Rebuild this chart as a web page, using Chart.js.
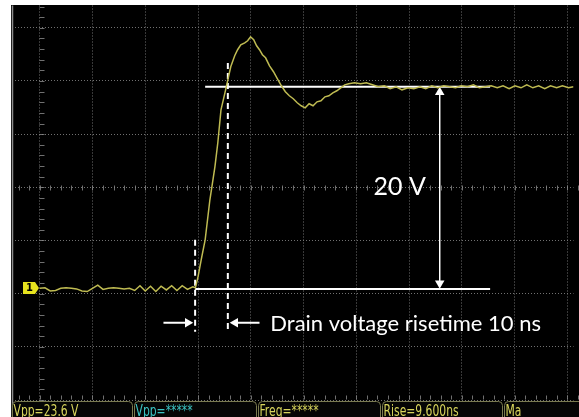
<!DOCTYPE html>
<html>
<head>
<meta charset="utf-8">
<script src="https://cdn.jsdelivr.net/npm/chart.js@4.4.0/dist/chart.umd.min.js"></script>
<style>
  html, body { margin: 0; background: #fff; }
  #wrap { width: 579px; height: 417px; }
</style>
</head>
<body>
<div id="wrap"><canvas id="chart"></canvas></div>
<script>
// scope trace: time in ns (20 ns/div), drain voltage in V (5 V/div)
const timeNs = [0, 2, 4, 6, 8, 10, 12, 14, 16, 18, 20, 22, 24, 26, 28, 30, 32, 34, 36, 38,
  40, 42, 44, 46, 48, 50, 52, 54, 56, 58,
  59.0, 60.0, 61.2, 62.7, 64.5, 66.4, 67.5, 68.7, 70.2, 71.3, 72.4, 73.9, 75.0, 76.2, 77.7,
  78.8, 79.9, 81.1, 82.2, 83.3, 84.4, 85.6, 87.1, 88.6, 90.1, 91.6, 93.1, 94.6, 96.1, 97.6,
  99.1, 100.6, 102.1, 103.6, 105.1, 106.6, 108.1, 109.6, 111.1, 112.6, 114.1, 115.6, 117.1,
  119.3, 121.6, 123.8, 126.1, 128.3, 130.6, 132.8, 135.1, 137.3, 139.6, 141.8, 144.1, 146.3,
  148.6, 150.8, 153.1, 155.3, 157.6, 159.8, 162.1, 164.4, 166.6, 168.9, 171.1, 173.4, 175.6,
  177.9, 180.1, 182.4, 184.6, 186.9, 189.1, 191.4, 193.6, 195.9, 198.1, 200.4, 202.3];
const volts = [0.0, 0.05, -0.25, -0.2, 0.0, 0.05, 0.0, -0.05, -0.25, -0.3, 0.0, 0.3, -0.1, 0.0, 0.05, 0.0, -0.05, 0.0, -0.2, 0.25,
  -0.25, 0.2, -0.3, 0.2, -0.15, 0.25, -0.2, 0.25, -0.1, 0.15,
  0.05, 1.08, 2.68, 4.56, 8.33, 11.43, 13.69, 16.79, 18.39, 19.61, 20.84, 21.87, 22.44, 22.91, 23.09,
  23.28, 23.66, 23.38, 22.81, 22.44, 21.97, 21.68, 20.93, 20.37, 19.71, 19.05, 18.49, 18.11, 17.83, 17.45,
  17.17, 16.98, 17.36, 17.17, 17.54, 17.64, 18.01, 18.11, 18.39, 18.58, 18.86, 19.14, 19.24,
  19.33, 19.24, 19.33, 19.14, 18.96, 19.05, 18.77, 18.96, 18.67, 18.86, 18.77, 18.96, 18.77,
  19.05, 18.86, 19.05, 18.96, 18.86, 19.05, 18.96, 19.14, 18.86, 18.96, 19.05, 18.86, 19.05,
  18.77, 19.05, 18.86, 19.14, 18.86, 19.05, 18.77, 19.05, 18.86, 19.05, 18.86, 18.96];

// graticule positions
const xGridNs = [0, 20, 40, 60, 80, 100, 120, 140, 160, 180, 200];
const yGridV = [-10.5, -5.5, -0.5, 4.5, 9.5, 14.5, 19.5, 24.5];

// annotation marks
const levelLineNs = [62.7, 170.7];
const levelV = 18.96;
const baseLineNs = [58.9, 170.7];
const baseV = -0.05;
const cursorNs = [58.9, 71.3];
const cursorTopV = [4.56, 21.2];
const cursorBottomV = -4.09;
const spanArrowNs = 151.6;
const spanArrowV = [18.44, 0.47];
const riseArrowV = -3.24;
const riseArrowInNs = [46.9, 56.1];
const riseArrowOutNs = [83.3, 74.1];

const spanLabel = '20 V';
const riseLabel = 'Drain voltage risetime 10 ns';
const statusLabels = ['Vpp=23.6 V', 'Vpp=*****', 'Freq=*****', 'Rise=9.600ns', 'Ma'];
const statusColors = ['#d8d55c', '#3cc4c4', '#d8d55c', '#d8d55c', '#d8d55c'];

const pts = (xs, ys) => xs.map((x, i) => ({ x: x, y: Array.isArray(ys) ? ys[i] : ys }));

const white = '#ffffff';
const line = (data, extra) => Object.assign({
  data: data, borderColor: white, borderWidth: 2, pointRadius: 0, fill: false
}, extra);

const scope = {
  id: 'scope',
  beforeDraw(chart) {
    const { ctx } = chart;
    ctx.save();
    ctx.fillStyle = '#000';
    ctx.fillRect(11, 5, chart.width - 11, chart.height - 5);
    ctx.restore();
  },
  beforeDatasetsDraw(chart) {
    const { ctx, chartArea: a, scales: { x, y } } = chart;
    ctx.save();
    ctx.strokeStyle = 'rgba(140,140,140,0.8)';
    ctx.lineWidth = 1;
    // minor ticks on the left graticule line
    const x0 = Math.round(x.getPixelForValue(0)) + 0.5;
    for (let v = yGridV[0]; v < 27; v += 1) {
      const py = Math.round(y.getPixelForValue(v)) + 0.5;
      ctx.beginPath(); ctx.moveTo(x0 - 1, py); ctx.lineTo(x0 + 4, py); ctx.stroke();
    }
    // minor ticks on the centre line and the bottom line
    const yc = Math.round(y.getPixelForValue(9.5)) + 0.5;
    const yb = Math.round(y.getPixelForValue(-10.5)) - 0.5;
    for (let t = -8; t <= 204; t += 4) {
      const px = Math.round(x.getPixelForValue(t)) + 0.5;
      ctx.beginPath(); ctx.moveTo(px, yc - 2); ctx.lineTo(px, yc + 3); ctx.stroke();
      ctx.beginPath(); ctx.moveTo(px, yb - 4); ctx.lineTo(px, yb); ctx.stroke();
    }
    // screen frame at the left
    ctx.strokeStyle = '#8c8c8c';
    ctx.lineWidth = 1.5;
    ctx.beginPath(); ctx.moveTo(a.left + 0.5, a.top); ctx.lineTo(a.left + 0.5, chart.height); ctx.stroke();
    ctx.restore();
  },
  afterDatasetsDraw(chart) {
    const { ctx, scales: { x, y } } = chart;
    ctx.save();
    // channel 1 ground marker
    const gy = Math.round(y.getPixelForValue(0));
    const gx = 23;
    ctx.fillStyle = '#e6e21e';
    ctx.beginPath();
    ctx.moveTo(gx, gy - 6); ctx.lineTo(gx + 12, gy - 6); ctx.lineTo(gx + 16, gy);
    ctx.lineTo(gx + 12, gy + 6); ctx.lineTo(gx, gy + 6); ctx.closePath(); ctx.fill();
    ctx.fillStyle = '#000';
    ctx.font = 'bold 10px "DejaVu Sans"';
    ctx.textBaseline = 'middle';
    ctx.fillText('1', gx + 3, gy + 0.5);

    // annotation texts
    ctx.fillStyle = white;
    ctx.textBaseline = 'alphabetic';
    ctx.font = '25px Lato';
    ctx.fillText(spanLabel, x.getPixelForValue(126.5), y.getPixelForValue(8.8));
    ctx.font = '22px Lato';
    ctx.fillText(riseLabel, x.getPixelForValue(87.4), y.getPixelForValue(-4.0));

    // measurement bar
    const edges = [12, 134, 258, 382, 504, 640];
    const top = 401;
    ctx.font = '15px "DejaVu Sans Condensed"';
    statusLabels.forEach((s, i) => {
      const l = edges[i] + 0.5, r = edges[i + 1] - 1.5;
      ctx.strokeStyle = '#7a7a50';
      ctx.fillStyle = '#050505';
      ctx.lineWidth = 1;
      ctx.beginPath();
      ctx.roundRect(l, top + 0.5, r - l, 30, 4);
      ctx.fill(); ctx.stroke();
      ctx.fillStyle = statusColors[i];
      ctx.save();
      ctx.translate(l + 1, 416);
      ctx.scale(0.8, 1);
      ctx.fillText(s, 0, 0);
      ctx.restore();
    });
    ctx.restore();
  }
};

const gridStyle = { color: 'rgba(125,125,125,0.9)', lineWidth: 1, drawTicks: false };

new Chart(document.getElementById('chart'), {
  type: 'line',
  data: {
    datasets: [
      line(pts(timeNs, volts), { borderColor: '#bfbb52', borderWidth: 1.5 }),
      line(pts(levelLineNs, levelV)),
      line(pts(baseLineNs, baseV)),
      line(pts([cursorNs[0], cursorNs[0]], [cursorTopV[0], cursorBottomV]), { borderDash: [6, 4] }),
      line(pts([cursorNs[1], cursorNs[1]], [cursorTopV[1], cursorBottomV]), { borderDash: [6, 4] }),
      line(pts([spanArrowNs, spanArrowNs], spanArrowV), {
        borderWidth: 1.5, pointRadius: 5.5, pointStyle: 'triangle', pointRotation: [0, 180],
        pointBackgroundColor: white, pointBorderColor: white, pointBorderWidth: 0
      }),
      line(pts(riseArrowInNs, riseArrowV), {
        pointRadius: [0, 5.5], pointStyle: 'triangle', pointRotation: 90,
        pointBackgroundColor: white, pointBorderColor: white, pointBorderWidth: 0
      }),
      line(pts(riseArrowOutNs, riseArrowV), {
        pointRadius: [0, 5.5], pointStyle: 'triangle', pointRotation: 270,
        pointBackgroundColor: white, pointBorderColor: white, pointBorderWidth: 0
      })
    ]
  },
  options: {
    responsive: true,
    maintainAspectRatio: false,
    animation: false,
    layout: { padding: { left: 12, top: 5, right: 0, bottom: 17 } },
    plugins: { legend: { display: false }, tooltip: { enabled: false } },
    elements: { line: { tension: 0 } },
    scales: {
      x: {
        type: 'linear', min: -10.5, max: 202.3,
        ticks: { display: false },
        grid: gridStyle,
        border: { display: false, dash: [1, 2] },
        afterBuildTicks: s => { s.ticks = xGridNs.map(v => ({ value: v })); }
      },
      y: {
        type: 'linear', min: -10.5, max: 26.6,
        ticks: { display: false },
        grid: gridStyle,
        border: { display: false, dash: [1, 2] },
        afterBuildTicks: s => { s.ticks = yGridV.map(v => ({ value: v })); }
      }
    }
  },
  plugins: [scope]
});
</script>
</body>
</html>
